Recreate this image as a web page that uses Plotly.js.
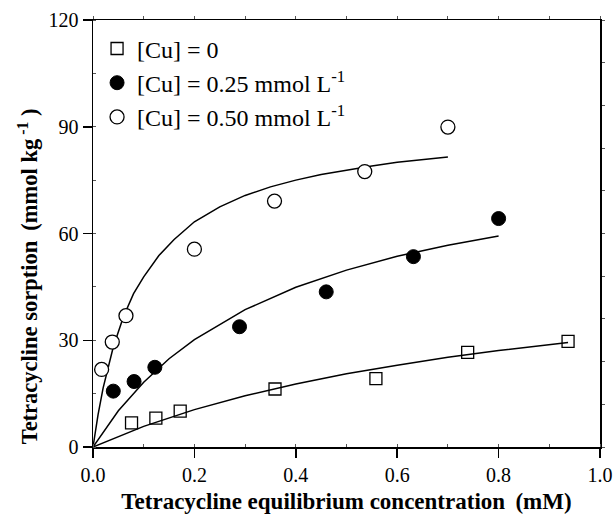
<!DOCTYPE html>
<html>
<head>
<meta charset="utf-8">
<script src="https://cdn.plot.ly/plotly-3.0.1.min.js"></script>
<style>html,body{margin:0;padding:0;background:#fff;}#chart{width:614px;height:523px;}</style>
</head>
<body>
<div id="chart"></div>
<script>
// Measured data points
const cu0_x = [0.076, 0.124, 0.172, 0.359, 0.558, 0.739, 0.937];
const cu0_y = [6.8, 8.1, 10.1, 16.3, 19.2, 26.6, 29.7];

const cu25_x = [0.040, 0.081, 0.122, 0.289, 0.460, 0.632, 0.800];
const cu25_y = [15.7, 18.4, 22.4, 33.8, 43.6, 53.5, 64.2];

const cu50_x = [0.017, 0.038, 0.065, 0.200, 0.358, 0.536, 0.700];
const cu50_y = [21.8, 29.5, 36.9, 55.6, 69.1, 77.4, 89.9];

// Fitted curves
const fit0_x = [0, 0.1, 0.2, 0.3, 0.4, 0.5, 0.6, 0.7, 0.8, 0.937];
const fit0_y = [0, 5.8, 10.5, 14.4, 17.7, 20.6, 23.0, 25.2, 27.1, 29.4];

const fit25_x = [0, 0.05, 0.10, 0.15, 0.20, 0.30, 0.40, 0.50, 0.60, 0.70, 0.80];
const fit25_y = [0, 10.2, 18.2, 24.8, 30.2, 38.6, 44.9, 49.7, 53.6, 56.7, 59.3];

const fit50_x = [0, 0.01, 0.02, 0.04, 0.06, 0.08, 0.10, 0.13, 0.16, 0.20, 0.25, 0.30, 0.35, 0.40, 0.45, 0.50, 0.55, 0.60, 0.65, 0.70];
const fit50_y = [0, 9.1, 16.6, 28.1, 36.6, 43.1, 47.8, 53.8, 58.3, 63.3, 67.5, 70.7, 73.1, 75.0, 76.6, 77.9, 79.0, 80.0, 80.8, 81.5];

const legendNames = ['[Cu] = 0', '[Cu] = 0.25 mmol L<sup>-1</sup>', '[Cu] = 0.50 mmol L<sup>-1</sup>'];

const xTickVals = [0, 0.2, 0.4, 0.6, 0.8, 1.0];
const xTickText = ['0.0', '0.2', '0.4', '0.6', '0.8', '1.0'];
const yTickVals = [0, 30, 60, 90, 120];

const xTitle = '<b>Tetracycline equilibrium concentration\u2009 (mM)</b>';
const yTitle = '<b>Tetracycline sorption\u2009 (mmol kg<sup> -1</sup> )</b>';

const FONT = "'Liberation Serif', 'Times New Roman', serif";
const lineStyle = {color: '#000', width: 1.5};

const traces = [
  {x: fit0_x, y: fit0_y, mode: 'lines', line: lineStyle, showlegend: false, hoverinfo: 'skip'},
  {x: fit25_x, y: fit25_y, mode: 'lines', line: lineStyle, showlegend: false, hoverinfo: 'skip'},
  {x: fit50_x, y: fit50_y, mode: 'lines', line: lineStyle, showlegend: false, hoverinfo: 'skip'},
  {x: cu0_x, y: cu0_y, mode: 'markers', name: legendNames[0], legendgroup: 'a',
   marker: {symbol: 'square-open', size: 12, color: '#000', line: {width: 1.3, color: '#000'}}},
  {x: cu25_x, y: cu25_y, mode: 'markers', name: legendNames[1], legendgroup: 'b',
   marker: {symbol: 'circle', size: 14, color: '#000', line: {width: 1, color: '#000'}}},
  {x: cu50_x, y: cu50_y, mode: 'markers', name: legendNames[2], legendgroup: 'c',
   marker: {symbol: 'circle', size: 14, color: '#fff', line: {width: 1.3, color: '#000'}}},
  {x: [0.5], y: [60], xaxis: 'x2', yaxis: 'y2', mode: 'markers', marker: {opacity: 0}, showlegend: false, hoverinfo: 'skip'}
];

const layout = {
  width: 614, height: 523,
  margin: {l: 93, r: 14, t: 20, b: 76},
  paper_bgcolor: '#fff', plot_bgcolor: '#fff',
  font: {family: FONT, color: '#000', size: 20},
  showlegend: true,
  legend: {x: 0.008, y: 0.985, xanchor: 'left', yanchor: 'top', font: {family: FONT, size: 24, color: '#000'},
           bgcolor: 'rgba(0,0,0,0)', tracegroupgap: 4, traceorder: 'normal'},
  xaxis: {
    range: [0, 1], tickvals: xTickVals, ticktext: xTickText,
    ticks: 'outside', ticklen: 9, tickwidth: 1.5, tickcolor: '#000',
    showline: true, linewidth: 1.5, linecolor: '#000', zeroline: false, showgrid: false,
    minor: {dtick: 0.1, ticks: 'inside', ticklen: 3, tickwidth: 1, tickcolor: '#555', showgrid: false},
    tickfont: {family: FONT, size: 20, color: '#000'},
    title: {text: xTitle, font: {family: FONT, size: 23, color: '#000'}, standoff: 8}
  },
  yaxis: {
    range: [0, 120], tickvals: yTickVals,
    ticks: 'outside', ticklen: 9, tickwidth: 1.5, tickcolor: '#000',
    showline: true, linewidth: 1.5, linecolor: '#000', zeroline: false, showgrid: false,
    minor: {dtick: 15, ticks: 'inside', ticklen: 3, tickwidth: 1, tickcolor: '#555', showgrid: false},
    tickfont: {family: FONT, size: 20, color: '#000'}
  },
  xaxis2: {
    overlaying: 'x', side: 'top', anchor: 'y', range: [0, 1], dtick: 0.1, tick0: 0,
    ticks: 'outside', ticklen: 3, tickwidth: 1, tickcolor: '#555', showticklabels: false,
    showline: true, linewidth: 1.5, linecolor: '#000', zeroline: false, showgrid: false
  },
  yaxis2: {
    overlaying: 'y', side: 'right', anchor: 'x', range: [0, 120], dtick: 12, tick0: 0,
    ticks: 'outside', ticklen: 3, tickwidth: 1, tickcolor: '#555', showticklabels: false,
    showline: true, linewidth: 1.5, linecolor: '#000', zeroline: false, showgrid: false
  },
  annotations: [{
    text: yTitle, xref: 'paper', yref: 'paper', x: -0.128, y: 0.40,
    xanchor: 'center', yanchor: 'middle', textangle: -90, showarrow: false,
    font: {family: FONT, size: 22.5, color: '#000'}
  }]
};

Plotly.newPlot('chart', traces, layout, {staticPlot: true, displayModeBar: false});
</script>
</body>
</html>
